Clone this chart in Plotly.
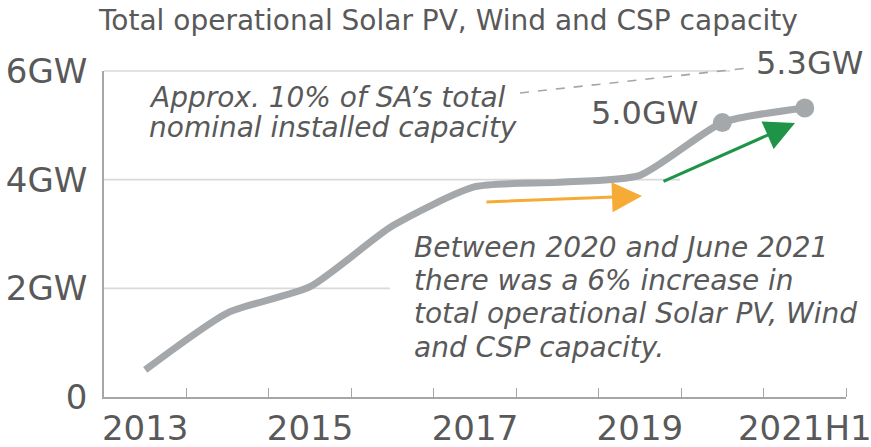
import plotly.graph_objects as go

# ---- data ----
categories = ["2013", "2014", "2015", "2016", "2017", "2018", "2019", "2020", "2021H1"]
capacity_gw = [0.50, 1.55, 2.03, 3.15, 3.87, 3.95, 4.08, 5.05, 5.32]
y_tick_values = [0, 2, 4, 6]
y_tick_labels = ["0", "2GW", "4GW", "6GW"]
x_label_every = 2

GREY_TXT = "#595959"
LINE_GREY = "#A5A8AB"
AXIS_GREY = "#A6A6A6"
GRID_GREY = "#D9D9D9"
FONT = "DejaVu Sans"

xpos = list(range(len(categories)))

fig = go.Figure()
fig.add_trace(go.Scatter(
    x=xpos, y=capacity_gw, mode="lines",
    line=dict(color=LINE_GREY, width=7, shape="spline", smoothing=0.6),
    hoverinfo="skip", showlegend=False,
))
fig.add_trace(go.Scatter(
    x=xpos[-2:], y=capacity_gw[-2:], mode="markers",
    marker=dict(color=LINE_GREY, size=19),
    hoverinfo="skip", showlegend=False,
))

W, H = 871, 447
L, R, T, B = 104, 25, 71, 50
pw, ph = W - L - R, H - T - B


def px_x(p):
    return (p - L) / pw


def px_y(p):
    return (H - B - p) / ph


shapes = []
# partial gridlines
for val, x_end in [(6, 730), (4, 680), (2, 390)]:
    shapes.append(dict(type="line", xref="paper", yref="paper",
                       x0=0, x1=px_x(x_end), y0=val / 6, y1=val / 6,
                       line=dict(color=GRID_GREY, width=1.6), layer="below"))
# dashed leader line
shapes.append(dict(type="line", xref="paper", yref="paper",
                   x0=px_x(520), y0=px_y(93), x1=px_x(748), y1=px_y(68),
                   line=dict(color=AXIS_GREY, width=1.6, dash="dash")))

annotations = []


def txt(text, x, y, size, italic=False, anchor="left"):
    annotations.append(dict(
        text=text, xref="paper", yref="paper", x=px_x(x), y=px_y(y),
        xanchor=anchor, yanchor="middle", showarrow=False,
        font=dict(family=FONT, size=size, color=GREY_TXT,
                  style="italic" if italic else "normal"),
    ))


txt("Total operational Solar PV, Wind and CSP capacity", 448, 20, 28, anchor="center")
txt("Approx. 10% of SA’s total", 147, 97, 28, italic=True)
txt("nominal installed capacity", 147, 127, 28, italic=True)
txt("5.3GW", 754, 63, 32)
txt("5.0GW", 589, 113, 32)
txt("Between 2020 and June 2021", 412, 247, 28, italic=True)
txt("there was a 6% increase in", 412, 280, 28, italic=True)
txt("total operational Solar PV, Wind", 412, 313, 28, italic=True)
txt("and CSP capacity.", 412, 347, 28, italic=True)


def arrow(x0, y0, x1, y1, color):
    annotations.append(dict(
        text="", xref="paper", yref="paper", axref="pixel", ayref="pixel",
        x=px_x(x1), y=px_y(y1), ax=x0 - x1, ay=y0 - y1,
        showarrow=True, arrowhead=2, arrowsize=2.0, arrowwidth=3,
        arrowcolor=color, standoff=0, startstandoff=0,
    ))


arrow(485, 202, 642, 196, "#F5AB35")
arrow(662, 182, 795, 123, "#1F9448")

fig.update_layout(
    width=W, height=H,
    margin=dict(l=L, r=R, t=T, b=B, pad=0, autoexpand=False),
    paper_bgcolor="white", plot_bgcolor="white",
    font=dict(family=FONT, color=GREY_TXT),
    shapes=shapes, annotations=annotations,
    showlegend=False,
    xaxis=dict(
        range=[-0.5, len(categories) - 0.5],
        tickvals=xpos[::x_label_every],
        ticktext=categories[::x_label_every],
        ticks="", showgrid=False, zeroline=False,
        showline=True, linecolor=AXIS_GREY, linewidth=1.6,
        tickfont=dict(family=FONT, size=34, color=GREY_TXT),
        ticklabeloverflow="allow",
        automargin=False,
        minor=dict(tickvals=[i + 0.5 for i in xpos], ticks="inside",
                   ticklen=9, tickcolor=AXIS_GREY, tickwidth=1.4, showgrid=False),
        fixedrange=True,
    ),
    yaxis=dict(
        range=[0, 6],
        tickvals=y_tick_values, ticktext=y_tick_labels,
        ticks="", showgrid=False, zeroline=False,
        showline=True, linecolor=AXIS_GREY, linewidth=1.6,
        tickfont=dict(family=FONT, size=34, color=GREY_TXT),
        ticklabelstandoff=8,
        automargin=False,
        fixedrange=True,
    ),
)

fig.write_html(
    "out.html",
    config={"displayModeBar": False},
    post_script="document.body.style.margin='0';document.body.style.overflow='hidden';",
)
